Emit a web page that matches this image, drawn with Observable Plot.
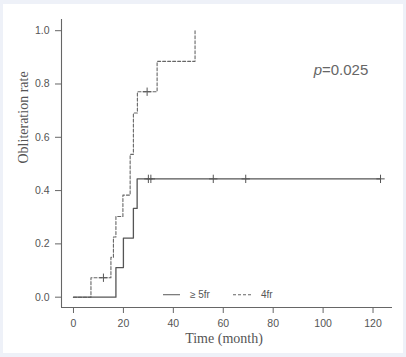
<!DOCTYPE html>
<html>
<head>
<meta charset="utf-8">
<script src="https://cdn.jsdelivr.net/npm/d3@7"></script>
<script src="https://cdn.jsdelivr.net/npm/@observablehq/plot@0.6"></script>
<style>
  html, body { margin: 0; padding: 0; background: #eef1f8; }
  #wrap { position: relative; width: 406px; height: 357px; overflow: hidden; }
  #panel { position: absolute; left: 3px; top: 4px; width: 400px; height: 349px; background: #fff; }
  #chart { position: absolute; left: 0; top: 0; }
  #legend { position: absolute; left: 0; top: 0; }
</style>
</head>
<body>
<div id="wrap">
  <div id="panel"></div>
  <div id="chart"></div>
  <svg id="legend" width="406" height="357"></svg>
</div>
<script>
// ---- data ----
const xTicks = [0, 20, 40, 60, 80, 100, 120];
const yTicks = [0, 0.2, 0.4, 0.6, 0.8, 1.0];

// >=5fr group (solid)
const solidTime = [0, 17, 20, 24, 25.5, 123];
const solidRate = [0, 0.111, 0.222, 0.333, 0.444, 0.444];
const solidCensorTime = [30, 31, 56, 69, 123];
const solidCensorRate = [0.444, 0.444, 0.444, 0.444, 0.444];

// 4fr group (dashed)
const dashTime = [0, 7, 15, 16, 17, 19.8, 22.7, 24, 25.6, 33.5, 48.7];
const dashRate = [0, 0.073, 0.150, 0.226, 0.303, 0.383, 0.536, 0.691, 0.771, 0.885, 1.0];
const dashCensorTime = [12, 29.5];
const dashCensorRate = [0.073, 0.771];

const legendLabels = ["≥ 5fr", "4fr"];
const pLabel = "p";
const pValue = "=0.025";
const xTitle = "Time (month)";
const yTitle = "Obliteration rate";

// ---- build ----
const solid = solidTime.map((t, i) => ({t, r: solidRate[i]}));
const dashed = dashTime.map((t, i) => ({t, r: dashRate[i]}));
const solidC = solidCensorTime.map((t, i) => ({t, r: solidCensorRate[i]}));
const dashC = dashCensorTime.map((t, i) => ({t, r: dashCensorRate[i]}));

const xDom = [-4.8, 127.8];
const yDom = [-0.0387, 1.042];
const ink = "#555";

const chart = Plot.plot({
  width: 406,
  height: 357,
  marginLeft: 61,
  marginRight: 14,
  marginTop: 19,
  marginBottom: 50,
  x: {domain: xDom},
  y: {domain: yDom},
  style: {background: "transparent", fontFamily: "'Liberation Sans', Arial, sans-serif", fontSize: "10.5px", color: ink},
  marks: [
    Plot.ruleX([xDom[0]], {stroke: "#666", strokeWidth: 1.1}),
    Plot.ruleY([yDom[0]], {stroke: "#666", strokeWidth: 1.1}),
    Plot.axisX(xTicks, {tickSize: 6, tickPadding: 6, label: null, stroke: "#666"}),
    Plot.axisY(yTicks, {tickSize: 6, tickPadding: 6, label: null, stroke: "#666", tickFormat: d3.format(".1f")}),
    Plot.line(dashed, {x: "t", y: "r", curve: "step-after", stroke: "#666", strokeWidth: 1.1, strokeDasharray: "3,2"}),
    Plot.line(solid, {x: "t", y: "r", curve: "step-after", stroke: "#555", strokeWidth: 1.3}),
    Plot.dot(solidC, {x: "t", y: "r", symbol: "plus", r: 2.8, stroke: "#555", strokeWidth: 1}),
    Plot.dot(dashC, {x: "t", y: "r", symbol: "plus", r: 2.8, stroke: "#555", strokeWidth: 1}),
    Plot.text([yTitle], {text: d => d, frameAnchor: "left", dx: -38, rotate: -90, fontFamily: "'Liberation Serif', 'Times New Roman', serif", fontSize: 14, fill: ink}),
    Plot.text([xTitle], {text: d => d, frameAnchor: "bottom", dx: -3, dy: 35, fontFamily: "'Liberation Serif', 'Times New Roman', serif", fontSize: 14, fill: ink}),
    Plot.text([pLabel], {text: d => d, frameAnchor: "top-left", dx: 260.5, dy: 45, textAnchor: "end", fontStyle: "italic", fontSize: 15, fill: "#666"}),
    Plot.text([pValue], {text: d => d, frameAnchor: "top-left", dx: 260.5, dy: 45, textAnchor: "start", fontSize: 15, fill: "#666"})
  ]
});
document.getElementById("chart").appendChild(chart);

// legend
const lg = d3.select("#legend");
const items = [
  {label: legendLabels[0], x1: 163, x2: 180, tx: 190, dash: null},
  {label: legendLabels[1], x1: 233, x2: 253, tx: 261, dash: "3,2"}
];
items.forEach(it => {
  lg.append("line").attr("x1", it.x1).attr("x2", it.x2).attr("y1", 294.7).attr("y2", 294.7)
    .attr("stroke", "#666").attr("stroke-width", 1.1).attr("stroke-dasharray", it.dash);
  lg.append("text").attr("x", it.tx).attr("y", 294.7).attr("dy", "0.35em")
    .attr("font-family", "'Liberation Sans', Arial, sans-serif").attr("font-size", 10).attr("fill", ink)
    .text(it.label);
});
</script>
</body>
</html>
